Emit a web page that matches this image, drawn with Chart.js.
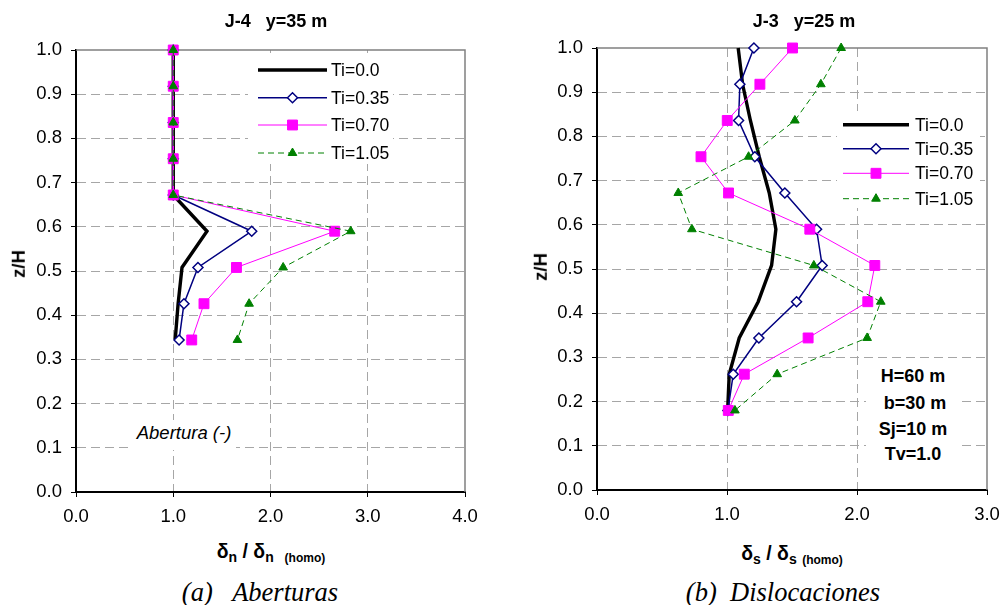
<!DOCTYPE html>
<html><head><meta charset="utf-8">
<script src="https://cdn.jsdelivr.net/npm/chart.js@4.4.0/dist/chart.umd.min.js"></script>
<style>
body{margin:0;background:#fff;}
#wrap{position:relative;width:1005px;height:605px;overflow:hidden;font-family:"Liberation Sans",Arial,sans-serif;color:#000;}
canvas{position:absolute;top:0;}
.t{position:absolute;white-space:pre;transform:translate(-50%,-50%);line-height:1;}
.b{font-weight:bold;}
.box{position:absolute;background:#fff;}
.cap{font-family:"Liberation Serif","Times New Roman",serif;font-style:italic;font-size:26.5px;}
sub{font-size:14px;vertical-align:-4px;}
sub.h{font-size:12px;}
</style></head><body><div id="wrap">
<canvas id="c1" width="490" height="540" style="left:0px"></canvas>
<canvas id="c2" width="495" height="540" style="left:510px"></canvas>

<div class="t b" style="left:276px;top:21px;font-size:18px;">J-4   y=35 m</div>
<div class="t b" style="left:804px;top:21px;font-size:18px;">J-3   y=25 m</div>
<div class="t b" style="left:19px;top:264px;font-size:18.5px;transform:translate(-50%,-50%) rotate(-90deg);">z/H</div>
<div class="t b" style="left:541px;top:267px;font-size:18.5px;transform:translate(-50%,-50%) rotate(-90deg);">z/H</div>
<div class="t b" style="left:271px;top:553px;font-size:19.5px;">δ<sub>n</sub> / δ<sub>n</sub>  <sub class="h">(homo)</sub></div>
<div class="t b" style="left:792px;top:555px;font-size:19.5px;">δ<sub>s</sub> / δ<sub>s</sub> <sub class="h">(homo)</sub></div>
<div class="t cap" style="left:260px;top:592px;">(a)   Aberturas</div>
<div class="t cap" style="left:783px;top:592px;">(b)  Dislocaciones</div>

<div class="box" style="left:130px;top:420px;width:106px;height:30px;"></div>
<div class="t" style="left:184px;top:433px;font-size:18.5px;font-style:italic;">Abertura (-)</div>

<div class="box" style="left:866px;top:362px;width:92px;height:104px;"></div>
<div class="t b" style="left:913px;top:376px;font-size:18px;">H=60 m</div>
<div class="t b" style="left:915px;top:402.5px;font-size:18px;">b=30 m</div>
<div class="t b" style="left:913px;top:428.5px;font-size:18px;">Sj=10 m</div>
<div class="t b" style="left:913px;top:454px;font-size:18px;">Tv=1.0</div>
</div>
<script>
// ---- data ----
const seriesLabels = ['Ti=0.0', 'Ti=0.35', 'Ti=0.70', 'Ti=1.05'];
const yTickValues = [0, 0.1, 0.2, 0.3, 0.4, 0.5, 0.6, 0.7, 0.8, 0.9, 1.0];
const xTickValuesJ4 = [0, 1, 2, 3, 4];
const xTickValuesJ3 = [0, 1, 2, 3];

const zLevelsJ4 = [1.0, 0.918, 0.836, 0.754, 0.672, 0.59, 0.508, 0.426, 0.344];
const j4Ti000 = [1.0, 1.0, 1.0, 1.0, 1.0, 1.347, 1.09, 1.05, 1.02];
const j4Ti035 = [1.0, 1.0, 1.0, 1.0, 1.0, 1.807, 1.254, 1.11, 1.06];
const j4Ti070 = [1.0, 1.0, 1.0, 1.0, 1.0, 2.66, 1.65, 1.316, 1.19];
const j4Ti105 = [1.0, 1.0, 1.0, 1.0, 1.0, 2.825, 2.13, 1.78, 1.66];

const zLevelsJ3 = [1.0, 0.918, 0.836, 0.754, 0.672, 0.59, 0.508, 0.426, 0.344, 0.262, 0.18];
const j3Ti000 = [1.086, 1.12, 1.18, 1.248, 1.325, 1.376, 1.343, 1.24, 1.094, 1.017, 1.005];
const j3Ti035 = [1.207, 1.099, 1.089, 1.214, 1.445, 1.689, 1.732, 1.535, 1.245, 1.048, 1.007];
const j3Ti070 = [1.504, 1.253, 1.002, 0.80, 1.012, 1.637, 2.137, 2.083, 1.624, 1.133, 1.01];
const j3Ti105 = [1.878, 1.722, 1.522, 1.166, 0.625, 0.73, 1.668, 2.183, 2.078, 1.386, 1.061];

// ---- styles ----
const FONT = '"Liberation Sans", Arial, sans-serif';
const seriesStyles = [
  {borderColor:'#000000', borderWidth:3.4, pointRadius:0, pointStyle:false, order:4},
  {borderColor:'#000080', borderWidth:1.5, pointStyle:'rectRot', pointRadius:5, pointBackgroundColor:'#ffffff', pointBorderColor:'#000080', pointBorderWidth:1.5, order:3},
  {borderColor:'#ff00ff', borderWidth:1, pointStyle:'rect', pointRadius:7, pointBackgroundColor:'#ff00ff', pointBorderColor:'#ff00ff', pointBorderWidth:1, order:2},
  {borderColor:'#008000', borderWidth:1, borderDash:[6,4], pointStyle:'triangle', pointRadius:5, pointBackgroundColor:'#008000', pointBorderColor:'#008000', pointBorderWidth:1, order:1}
];

const framePlugin = {
  id: 'frame',
  beforeDatasetsDraw(chart) {
    const {ctx, chartArea: a} = chart;
    ctx.save();
    ctx.strokeStyle = '#808080';
    ctx.lineWidth = 1.5;
    ctx.beginPath();
    ctx.moveTo(a.left, a.top);
    ctx.lineTo(a.right, a.top);
    ctx.lineTo(a.right, a.bottom);
    ctx.stroke();
    ctx.restore();
  },
  afterDraw(chart, args, opts) {
    const L = opts;
    if (!L || !L.rows) return;
    const ctx = chart.ctx;
    ctx.save();
    ctx.fillStyle = '#fff';
    ctx.fillRect(L.box[0], L.box[1], L.box[2], L.box[3]);
    chart.data.datasets.forEach((ds, i) => {
      const y = L.rows[i];
      ctx.save();
      ctx.strokeStyle = ds.borderColor;
      ctx.lineWidth = ds.borderWidth;
      ctx.setLineDash(ds.borderDash || []);
      ctx.beginPath();
      ctx.moveTo(L.x0, y);
      ctx.lineTo(L.x1, y);
      ctx.stroke();
      ctx.restore();
      if (ds.pointStyle) {
        ctx.save();
        ctx.fillStyle = ds.pointBackgroundColor;
        ctx.strokeStyle = ds.pointBorderColor;
        ctx.lineWidth = ds.pointBorderWidth;
        Chart.helpers.drawPoint(ctx, {pointStyle: ds.pointStyle, radius: ds.pointRadius, rotation: 0, borderWidth: ds.pointBorderWidth}, (L.x0 + L.x1) / 2, y);
        ctx.restore();
      }
      ctx.fillStyle = '#000';
      ctx.font = '17.5px ' + FONT;
      ctx.textBaseline = 'middle';
      ctx.textAlign = 'left';
      ctx.fillText(seriesLabels[i], L.tx, y + 1);
    });
    ctx.restore();
  }
};

function makeChart(id, zs, seriesVals, xTicks, lay, legendCfg) {
  const xMax = xTicks[xTicks.length - 1];
  const gridColor = (ctx, max) => {
    const v = ctx.tick ? ctx.tick.value : null;
    return (v === 0 || v === max) ? 'rgba(0,0,0,0)' : '#a6a6a6';
  };
  const datasets = seriesVals.map((vals, i) => Object.assign({
    label: seriesLabels[i],
    data: zs.map((z, k) => ({x: vals[k], y: z})),
    showLine: true,
    tension: 0,
    clip: false,
    fill: false
  }, seriesStyles[i]));
  return new Chart(document.getElementById(id), {
    type: 'scatter',
    data: {datasets},
    options: {
      responsive: false,
      animation: false,
      devicePixelRatio: 1,
      events: [],
      layout: {padding: {top: lay.top, right: lay.right, left: 0, bottom: 0}},
      plugins: {legend: {display: false}, tooltip: {enabled: false}, title: {display: false}, frame: legendCfg},
      scales: {
        x: {
          type: 'linear', min: 0, max: xMax,
          afterBuildTicks: s => { s.ticks = xTicks.map(v => ({value: v})); },
          ticks: {callback: v => Number(v).toFixed(1), font: {family: FONT, size: 18.5}, color: '#000', padding: 9, maxRotation: 0, autoSkip: false},
          grid: {color: c => gridColor(c, xMax), lineWidth: 1, tickLength: 5, tickColor: '#000', tickWidth: 1},
          border: {display: true, color: '#000', width: 2, dash: [9, 5]},
          afterFit: s => { s.height = lay.xh; s.paddingLeft = 0; s.paddingRight = 0; }
        },
        y: {
          type: 'linear', min: 0, max: 1,
          afterBuildTicks: s => { s.ticks = yTickValues.map(v => ({value: v})); },
          ticks: {callback: v => Number(v).toFixed(1), font: {family: FONT, size: 18.5}, color: '#000', padding: 9, autoSkip: false},
          grid: {color: c => gridColor(c, 1), lineWidth: 1, tickLength: 5, tickColor: '#000', tickWidth: 1},
          border: {display: true, color: '#000', width: 2, dash: [9, 5]},
          afterFit: s => { s.width = lay.yw; s.paddingTop = 0; s.paddingBottom = 0; }
        }
      }
    },
    plugins: [framePlugin]
  });
}

makeChart('c1', zLevelsJ4, [j4Ti000, j4Ti035, j4Ti070, j4Ti105], xTickValuesJ4,
  {top: 50, right: 25, xh: 48, yw: 76},
  {box: [248, 53, 145, 111], x0: 258, x1: 327, tx: 331, rows: [70, 97.7, 125, 153]});

makeChart('c2', zLevelsJ3, [j3Ti000, j3Ti035, j3Ti070, j3Ti105], xTickValuesJ3,
  {top: 48, right: 18, xh: 50, yw: 87},
  {box: [327, 111, 143, 97], x0: 333, x1: 399, tx: 405, rows: [124.7, 148.7, 173.3, 198.7]});
</script>
</body></html>
